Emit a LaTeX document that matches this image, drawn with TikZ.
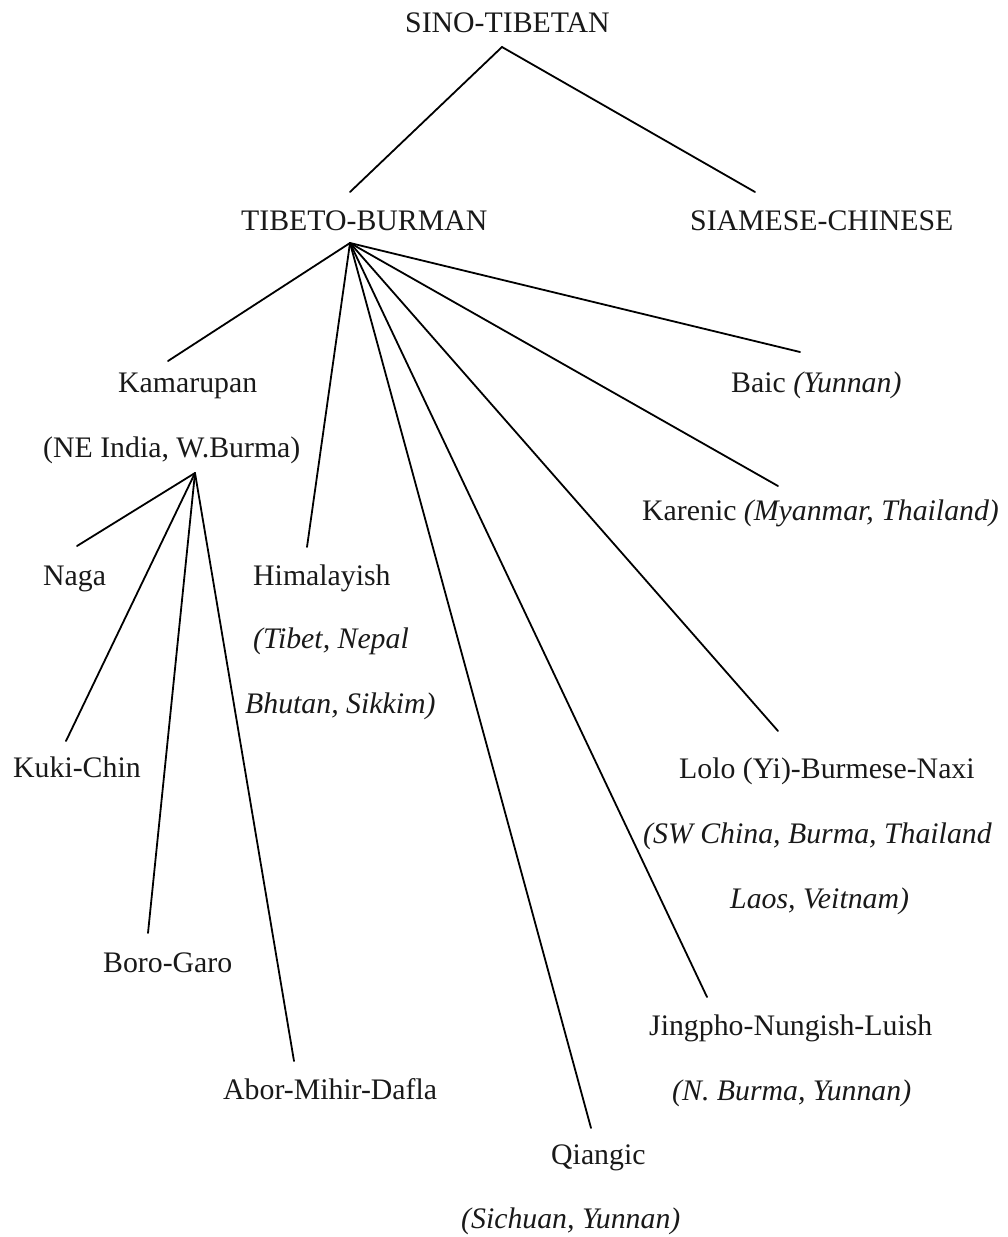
\documentclass[tikz,border=0pt]{standalone}
\usepackage{fontspec}
\setmainfont{Liberation Serif}
\begin{document}
\begin{tikzpicture}[x=1pt,y=-1pt,
  lbl/.style={anchor=base west, inner sep=0pt, text=black!90, font=\fontsize{29.8}{34}\selectfont},
  edge/.style={line width=1.8pt, line cap=round}]
\useasboundingbox (0,0) rectangle (1008,1237);
% labels
\node[lbl] (st) at (405,32) {SINO-TIBETAN};
\node[lbl] (tb) at (241,230) {TIBETO-BURMAN};
\node[lbl] (sc) at (690,230) {SIAMESE-CHINESE};
\node[lbl] (kam) at (118,392) {Kamarupan};
\node[lbl] (kam2) at (43,457) {(NE India, W.Burma)};
\node[lbl] (naga) at (43,585) {Naga};
\node[lbl] (him) at (253,585) {Himalayish};
\node[lbl] (him2) at (253,648) {\itshape (Tibet, Nepal};
\node[lbl] (him3) at (245,713) {\itshape Bhutan, Sikkim)};
\node[lbl] (baic) at (731,392) {Baic \textit{(Yunnan)}};
\node[lbl] (kar) at (642,520) {Karenic \textit{(Myanmar, Thailand)}};
\node[lbl] (kuki) at (13,777) {Kuki-Chin};
\node[lbl] (lolo) at (679,778) {Lolo (Yi)-Burmese-Naxi};
\node[lbl] (lolo2) at (643,843) {\itshape (SW China, Burma, Thailand};
\node[lbl] (lolo3) at (730,908) {\itshape Laos, Veitnam)};
\node[lbl] (boro) at (103,972) {Boro-Garo};
\node[lbl] (abor) at (223,1099) {Abor-Mihir-Dafla};
\node[lbl] (jing) at (649,1035) {Jingpho-Nungish-Luish};
\node[lbl] (jing2) at (672,1100) {\itshape (N. Burma, Yunnan)};
\node[lbl] (qia) at (551,1164) {Qiangic};
\node[lbl] (qia2) at (461,1228) {\itshape (Sichuan, Yunnan)};
% connector end points
\coordinate (stA) at (502,47);
\coordinate (stL) at (350,192);
\coordinate (stR) at (755,192);
\coordinate (tbA) at (350,243);
\coordinate (eKam) at (168,361);
\coordinate (eHim) at (307,547);
\coordinate (eQia) at (591,1128);
\coordinate (eJing) at (707,997);
\coordinate (eLolo) at (778,731);
\coordinate (eKar) at (778,486);
\coordinate (eBaic) at (800,352);
\coordinate (kA) at (195,473);
\coordinate (eNaga) at (77,546);
\coordinate (eKuki) at (66,741);
\coordinate (eBoro) at (148,933);
\coordinate (eAbor) at (294,1061);
% connectors
\draw[edge] (stL) -- (stA) -- (stR);
\foreach \e in {eKam,eHim,eQia,eJing,eLolo,eKar,eBaic}
  \draw[edge] (tbA) -- (\e);
\foreach \e in {eNaga,eKuki,eBoro,eAbor}
  \draw[edge] (kA) -- (\e);
\end{tikzpicture}
\end{document}
